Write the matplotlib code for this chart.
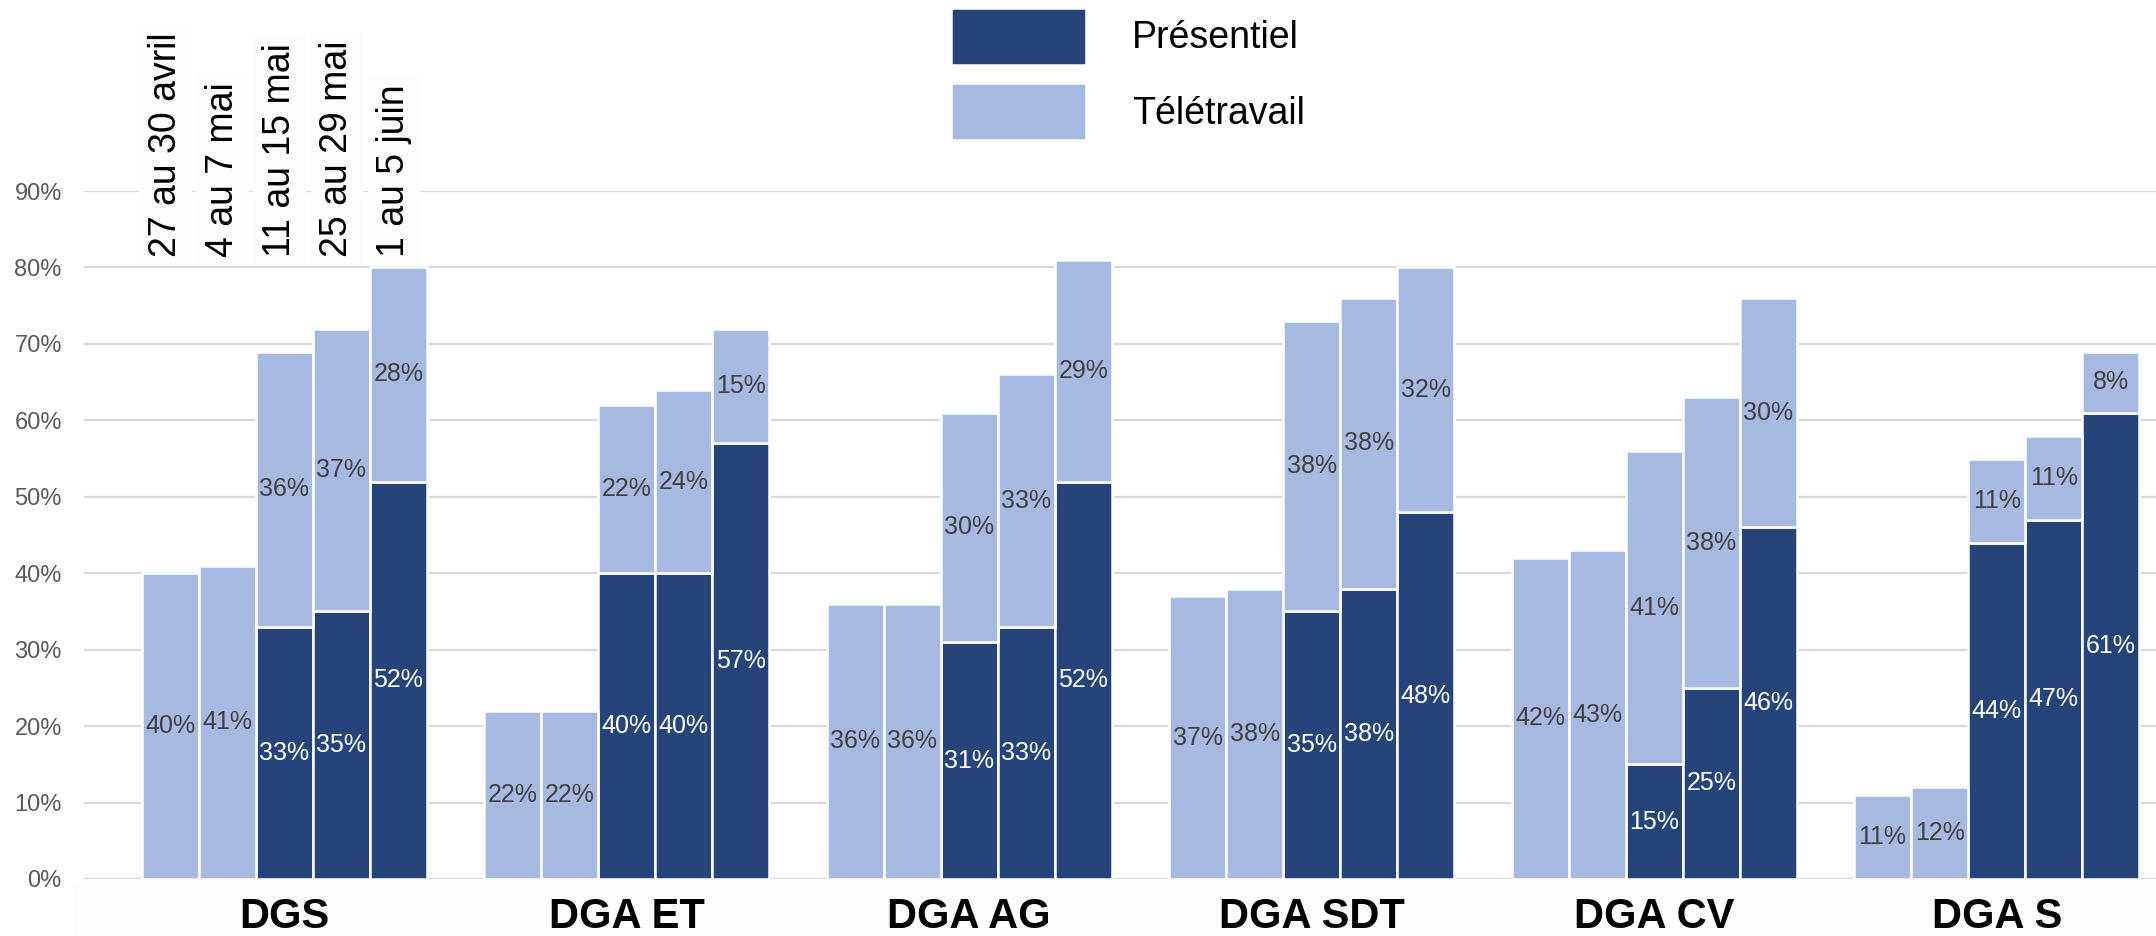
import matplotlib.pyplot as plt
import numpy as np
from matplotlib.patches import Rectangle

plt.rcParams['font.family'] = ['Liberation Sans', 'DejaVu Sans']

groups = ['DGS', 'DGA ET', 'DGA AG', 'DGA SDT', 'DGA CV', 'DGA S']
periods = ['27 au 30 avril', '4 au 7 mai', '11 au 15 mai', '25 au 29 mai', '1 au 5 juin']

# share of staff on site / remote, per direction and week (None = not surveyed)
presentiel = [
    [None, None, 33, 35, 52],
    [None, None, 40, 40, 57],
    [None, None, 31, 33, 52],
    [None, None, 35, 38, 48],
    [None, None, 15, 25, 46],
    [None, None, 44, 47, 61],
]
teletravail = [
    [40, 41, 36, 37, 28],
    [22, 22, 22, 24, 15],
    [36, 36, 30, 33, 29],
    [37, 38, 38, 38, 32],
    [42, 43, 41, 38, 30],
    [11, 12, 11, 11, 8],
]

dark = '#27447a'
light = '#a6b9e0'

fig = plt.figure(figsize=(21.56, 9.36), dpi=100)
ax = fig.add_axes([0.039, 0.0609, 0.961, 0.735])

# faint band behind the direction names
fig.patches.append(Rectangle((0.034, 0), 0.966, 0.058, transform=fig.transFigure,
                             facecolor='#fdfdfb', edgecolor='none', zorder=-1))

n = len(periods)
slot = n + 1
for g, name in enumerate(groups):
    x = np.arange(n) + g * slot
    p = np.array([np.nan if v is None else v for v in presentiel[g]], dtype=float) / 100
    t = np.array(teletravail[g], dtype=float) / 100
    base = np.nan_to_num(p)
    ax.bar(x, p, width=1.0, color=dark, edgecolor='white', linewidth=1.8, zorder=3,
           label='Présentiel' if g == 0 else None)
    ax.bar(x, t, bottom=base, width=1.0, color=light, edgecolor='white', linewidth=1.8,
           zorder=3, label='Télétravail' if g == 0 else None)
    for xi, pv, tv, b in zip(x, p, t, base):
        if not np.isnan(pv):
            ax.text(xi, pv / 2, f'{pv * 100:.0f}%', ha='center', va='center',
                    color='white', fontsize=18, zorder=4)
        ax.text(xi, b + tv / 2, f'{tv * 100:.0f}%', ha='center', va='center',
                color='#404040', fontsize=18, zorder=4)
    ax.annotate(name, xy=(g * slot + (n - 1) / 2, 0), xytext=(0, -35.3),
                textcoords='offset points', ha='center', va='baseline',
                fontsize=30, fontweight='bold', color='black', annotation_clip=False,
                zorder=6)

# week labels above the first group
for k, lab in enumerate(periods):
    ax.text(k - 0.08, 0.8137, lab, rotation=90, ha='center', va='bottom', fontsize=27,
            color='black', zorder=5, clip_on=False,
            bbox=dict(facecolor='#fdfdfb', edgecolor='none', pad=6))

ax.set_ylim(0, 0.9)
ax.set_xlim(-1.507, 34.79)
ax.set_yticks(np.arange(0, 0.91, 0.1))
ax.set_yticklabels([f'{v}%' for v in range(0, 91, 10)])
ax.tick_params(axis='y', length=0, pad=16, labelsize=17, labelcolor='#595959')
ax.set_xticks([])
ax.grid(axis='y', color='#d9d9d9', linewidth=1.6, zorder=0)
ax.set_axisbelow(True)
for s in ax.spines.values():
    s.set_visible(False)

ax.legend(loc='upper left', bbox_to_anchor=(951 / 2156, 1 - 8 / 936),
          bbox_transform=fig.transFigure, borderpad=0, borderaxespad=0, frameon=False,
          handlelength=3.6, handleheight=1.95, labelspacing=0.5, handletextpad=1.23,
          fontsize=27)

fig.savefig('out.png', dpi=100)
